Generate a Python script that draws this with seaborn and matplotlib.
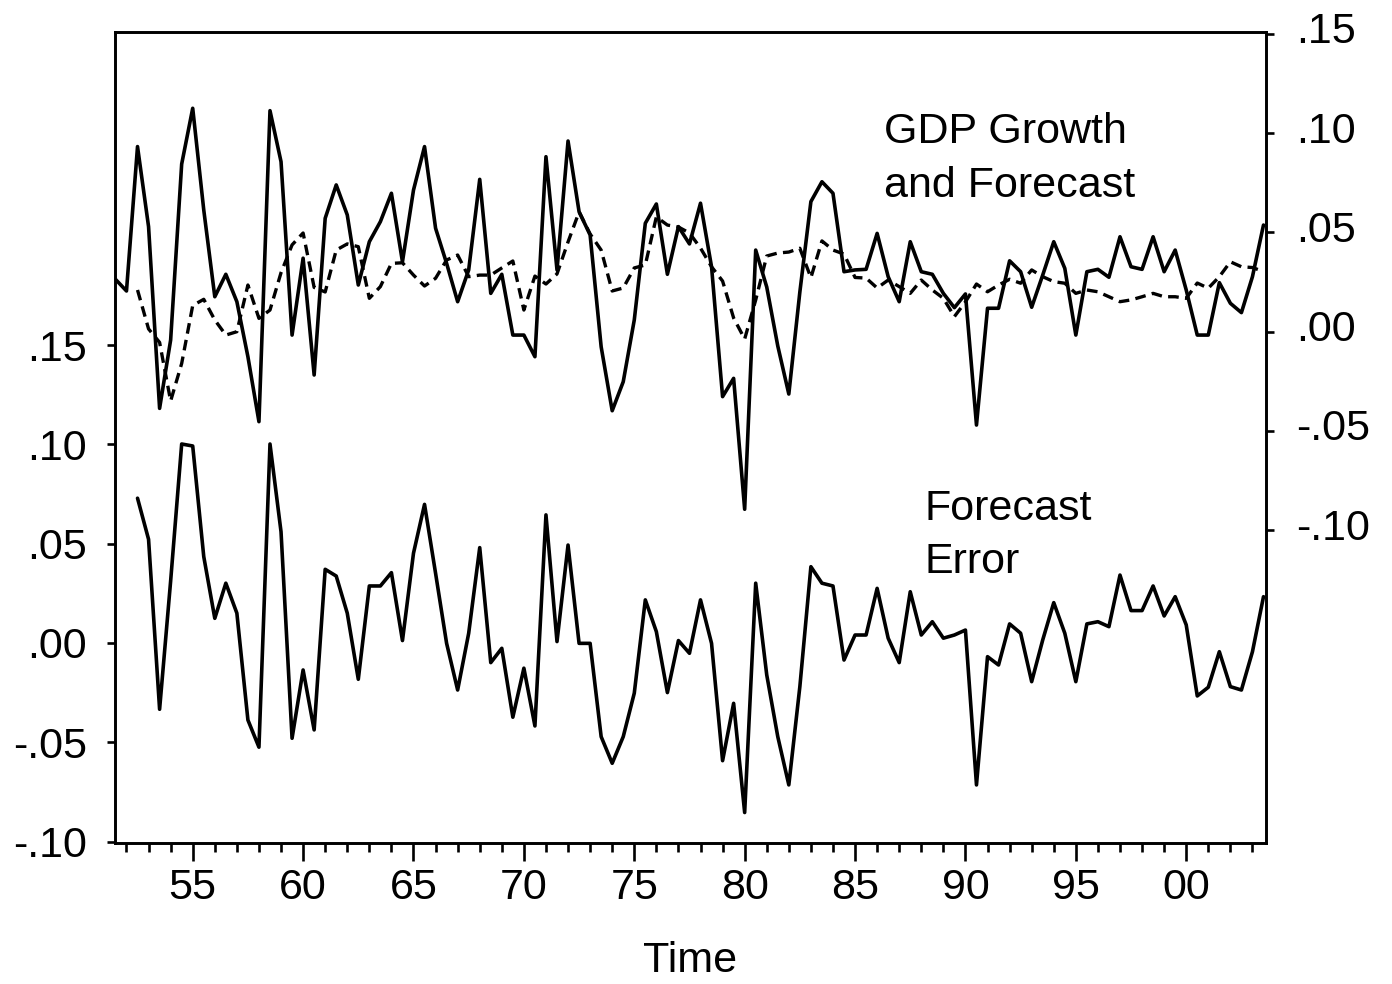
import numpy as np
import pandas as pd
import matplotlib
matplotlib.use("Agg")
import matplotlib.pyplot as plt
import matplotlib.transforms as mtransforms
import seaborn as sns
from matplotlib.ticker import FixedLocator, FixedFormatter, NullFormatter

# ---------------- data ----------------
gdp_start = 1951.5          # first GDP observation
fc_start = 1952.5           # first forecast / error observation
step = 0.5                  # half-year spacing

gdp_growth = [
    0.0264, 0.0205, 0.0932, 0.0529, -0.0386, -0.0042, 0.0844, 0.1125, 0.0613, 0.0176,
    0.0289, 0.0151, -0.0126, -0.0453, 0.1113, 0.0856, -0.0017, 0.0370, -0.0218, 0.0571,
    0.0739, 0.0588, 0.0235, 0.0453, 0.0554, 0.0697, 0.0352, 0.0713, 0.0932, 0.0521,
    0.0344, 0.0151, 0.0311, 0.0767, 0.0193, 0.0289, -0.0017, -0.0017, -0.0126, 0.0881,
    0.0311, 0.0960, 0.0604, 0.0487, -0.0076, -0.0398, -0.0252, 0.0059, 0.0546, 0.0643,
    0.0289, 0.0529, 0.0442, 0.0647, 0.0327, -0.0327, -0.0235, -0.0894, 0.0411, 0.0225,
    -0.0072, -0.0314, 0.0200, 0.0655, 0.0755, 0.0697, 0.0302, 0.0311, 0.0314, 0.0495,
    0.0277, 0.0151, 0.0453, 0.0302, 0.0289, 0.0193, 0.0121, 0.0190, -0.0470, 0.0118,
    0.0118, 0.0357, 0.0302, 0.0123, 0.0285, 0.0453, 0.0319, -0.0017, 0.0302, 0.0314,
    0.0274, 0.0478, 0.0327, 0.0314, 0.0478, 0.0302, 0.0411, 0.0210, -0.0017, -0.0017,
    0.0247, 0.0143, 0.0096, 0.0277, 0.0537,
]

forecast = [
    0.0210, 0.0014, -0.0054, -0.0349, -0.0160, 0.0132, 0.0163, 0.0059, -0.0017, 0.0000,
    0.0235, 0.0067, 0.0109, 0.0297, 0.0437, 0.0497, 0.0223, 0.0200, 0.0411, 0.0442,
    0.0428, 0.0168, 0.0227, 0.0344, 0.0347, 0.0285, 0.0230, 0.0269, 0.0361, 0.0386,
    0.0277, 0.0285, 0.0285, 0.0321, 0.0356, 0.0109, 0.0280, 0.0240, 0.0291, 0.0452,
    0.0603, 0.0492, 0.0411, 0.0205, 0.0220, 0.0321, 0.0336, 0.0578, 0.0537, 0.0527,
    0.0497, 0.0421, 0.0327, 0.0255, 0.0069, -0.0037, 0.0160, 0.0381, 0.0396, 0.0401,
    0.0420, 0.0272, 0.0457, 0.0411, 0.0391, 0.0273, 0.0270, 0.0220, 0.0260, 0.0227,
    0.0193, 0.0260, 0.0210, 0.0168, 0.0076, 0.0150, 0.0240, 0.0201, 0.0235, 0.0264,
    0.0244, 0.0311, 0.0277, 0.0252, 0.0244, 0.0193, 0.0210, 0.0201, 0.0176, 0.0151,
    0.0160, 0.0176, 0.0193, 0.0176, 0.0176, 0.0168, 0.0245, 0.0219, 0.0277, 0.0352,
    0.0327, 0.0323, 0.0303,
]

forecast_error = [
    0.0729, 0.0522, -0.0334, 0.0312, 0.1002, 0.0992, 0.0435, 0.0124, 0.0301, 0.0150,
    -0.0388, -0.0525, 0.1002, 0.0560, -0.0480, -0.0136, -0.0438, 0.0371, 0.0337, 0.0150,
    -0.0183, 0.0287, 0.0287, 0.0354, 0.0012, 0.0452, 0.0698, 0.0351, -0.0002, -0.0237,
    0.0049, 0.0480, -0.0099, -0.0027, -0.0374, -0.0127, -0.0418, 0.0645, 0.0007, 0.0493,
    -0.0002, -0.0002, -0.0472, -0.0606, -0.0472, -0.0253, 0.0217, 0.0057, -0.0250, 0.0012,
    -0.0052, 0.0217, -0.0002, -0.0593, -0.0304, -0.0854, 0.0301, -0.0161, -0.0472, -0.0715,
    -0.0220, 0.0384, 0.0301, 0.0287, -0.0086, 0.0040, 0.0040, 0.0275, 0.0024, -0.0099,
    0.0258, 0.0040, 0.0107, 0.0024, 0.0040, 0.0065, -0.0715, -0.0069, -0.0111, 0.0096,
    0.0049, -0.0195, 0.0015, 0.0203, 0.0049, -0.0195, 0.0096, 0.0107, 0.0082, 0.0342,
    0.0163, 0.0163, 0.0287, 0.0136, 0.0233, 0.0091, -0.0267, -0.0223, -0.0044, -0.0220,
    -0.0237, -0.0044, 0.0233,
]

y_ticks = [-0.10, -0.05, 0.00, 0.05, 0.10, 0.15]
y_tick_labels = ["-.10", "-.05", ".00", ".05", ".10", ".15"]
year_ticks = [1955, 1960, 1965, 1970, 1975, 1980, 1985, 1990, 1995, 2000]
year_labels = ["55", "60", "65", "70", "75", "80", "85", "90", "95", "00"]
minor_years = list(range(1952, 2004))

# ---------------- frames ----------------
df_gdp = pd.DataFrame({"t": gdp_start + step * np.arange(len(gdp_growth)), "v": gdp_growth})
df_fc = pd.DataFrame({"t": fc_start + step * np.arange(len(forecast)), "v": forecast})
df_err = pd.DataFrame({"t": fc_start + step * np.arange(len(forecast_error)), "v": forecast_error})

# ---------------- style ----------------
sns.set_style("ticks")
plt.rcParams["font.family"] = ["Liberation Sans", "DejaVu Sans"]
for k in ("text.color", "axes.labelcolor", "xtick.color", "ytick.color", "axes.edgecolor"):
    plt.rcParams[k] = "black"

W, H = 1392, 984
fig = plt.figure(figsize=(W / 100, H / 100), dpi=100)
L, R, T, B = 115, 1265.7, 32, 842.7
ax = fig.add_axes([L / W, 1 - B / H, (R - L) / W, (B - T) / H])
ax2 = ax.twinx()

lw = 2.6
sns.lineplot(data=df_err, x="t", y="v", ax=ax, color="black", linewidth=lw, estimator=None)
sns.lineplot(data=df_gdp, x="t", y="v", ax=ax2, color="black", linewidth=lw, estimator=None)
sns.lineplot(data=df_fc, x="t", y="v", ax=ax2, color="black", linewidth=2.4,
             linestyle=(0, (3.2, 1.9)), estimator=None)

ax.set_xlim(1951.48, 2003.6)
ax.set_ylim(-0.1006, 0.3077)
ax2.set_ylim(-0.2573, 0.1509)

fs = 31
ax.yaxis.set_major_locator(FixedLocator(y_ticks))
ax.yaxis.set_major_formatter(FixedFormatter(y_tick_labels))
ax2.yaxis.set_major_locator(FixedLocator(y_ticks))
ax2.yaxis.set_major_formatter(FixedFormatter(y_tick_labels))
ax.xaxis.set_major_locator(FixedLocator(year_ticks))
ax.xaxis.set_major_formatter(FixedFormatter(year_labels))
ax.xaxis.set_minor_locator(FixedLocator(minor_years))
ax.xaxis.set_minor_formatter(NullFormatter())

ax.tick_params(axis="y", direction="out", length=6, width=1.9, labelsize=fs, pad=14, colors="black")
ax2.tick_params(axis="y", direction="out", length=6, width=1.9, labelsize=fs, pad=16, colors="black")
ax.tick_params(axis="x", which="major", direction="out", length=13, width=1.9, labelsize=fs, pad=5,
               colors="black")
ax.tick_params(axis="x", which="minor", direction="out", length=6.5, width=1.9, colors="black")

# right-hand labels sit a little above their ticks in the original
shift_up = mtransforms.ScaledTranslation(0, 6 / 100, fig.dpi_scale_trans)
for lab in ax2.get_yticklabels():
    lab.set_transform(lab.get_transform() + shift_up)

for a in (ax, ax2):
    for s in a.spines.values():
        s.set_linewidth(1.9)
        s.set_color("black")
        s.set_visible(True)

ax.set_ylabel("")
ax2.set_ylabel("")
ax.set_xlabel("Time", fontsize=fs, labelpad=24, color="black")

def ftext(x, y, s):
    fig.text(x / W, 1 - y / H, s, fontsize=fs, ha="left", va="baseline", color="black")

ftext(884, 143, "GDP Growth")
ftext(884, 197, "and Forecast")
ftext(924, 520, "Forecast")
ftext(924, 573, "Error")

fig.savefig("out.png", dpi=100)
